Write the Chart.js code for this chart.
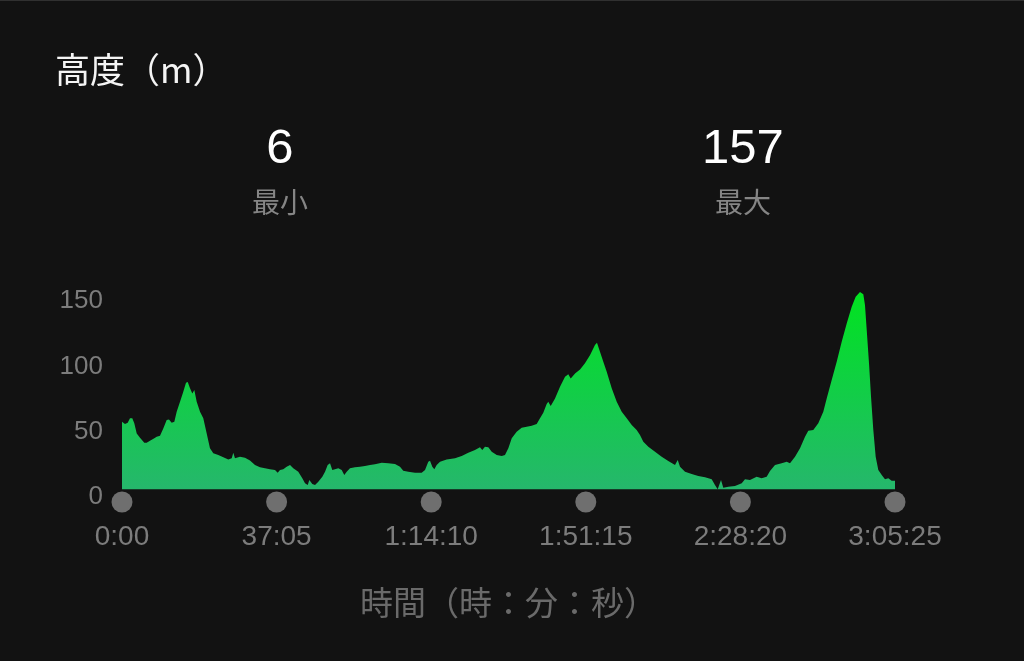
<!DOCTYPE html>
<html><head><meta charset="utf-8">
<script src="https://cdn.jsdelivr.net/npm/chart.js@4.4.0/dist/chart.umd.min.js"></script>
<style>
html,body{margin:0;padding:0;background:#121212;}
#wrap{position:relative;width:1024px;height:661px;overflow:hidden;background:#121212;}
#topline{position:absolute;left:0;top:0;width:1024px;height:1px;background:#303030;}
canvas{position:absolute;left:0;top:0;}
.t{position:absolute;white-space:nowrap;line-height:1;}
#title{left:55px;top:50px;font-family:"Noto Sans CJK JP";font-size:35px;color:#f4f4f4;}
.num{font-family:"Liberation Sans","Noto Sans CJK JP";font-size:49px;color:#ffffff;transform:translateX(-50%);top:122px;}
.lab{font-family:"Noto Sans CJK JP";font-size:28px;color:#858585;transform:translateX(-50%);top:187px;}
</style></head><body>
<div id="wrap">
<canvas id="c" width="1024" height="661"></canvas>
<div id="topline"></div>
<div class="t" id="title"></div>
<div class="t num" id="n0" style="left:280px"></div>
<div class="t num" id="n1" style="left:743px"></div>
<div class="t lab" id="l0" style="left:280px"></div>
<div class="t lab" id="l1" style="left:743px"></div>
</div>
<script>
// ---- data ----
const chartTitle = '高度（m）';
const xAxisTitle = '時間（時：分：秒）';
const statValues = [6, 157];
const statLabels = ['最小', '最大'];
const xTickValues = [0, 2225, 4450, 6675, 8900, 11125];
const xTickLabels = ['0:00', '37:05', '1:14:10', '1:51:15', '2:28:20', '3:05:25'];
const yTickValues = [0, 50, 100, 150];
const timeSec = [0,43,82,115,148,177,212,259,321,355,403,465,499,547,594,643,676,715,753,787,835,882,921,946,979,1012,1041,1075,1123,1170,1219,1266,1314,1386,1458,1530,1579,1602,1626,1698,1770,1842,1914,1986,2058,2130,2202,2241,2274,2321,2370,2418,2465,2537,2595,2634,2673,2696,2739,2778,2825,2883,2922,2960,2994,3027,3065,3113,3162,3199,3234,3281,3353,3425,3497,3569,3641,3738,3833,3929,4001,4048,4120,4217,4313,4361,4408,4433,4466,4495,4529,4577,4673,4793,4889,4984,5080,5152,5185,5224,5272,5321,5393,5465,5512,5560,5609,5680,5752,5824,5896,5968,6016,6063,6112,6135,6170,6232,6304,6376,6423,6458,6520,6592,6663,6735,6807,6836,6879,6927,6976,7048,7120,7192,7264,7336,7407,7455,7503,7575,7671,7767,7862,7959,7998,8031,8103,8199,8294,8391,8487,8534,8573,8621,8654,8726,8822,8919,8966,9038,9134,9206,9278,9326,9398,9494,9566,9614,9686,9758,9830,9877,9949,10021,10093,10142,10214,10286,10358,10430,10502,10559,10621,10669,10693,10718,10751,10780,10813,10847,10885,10934,10981,11029,11077,11125];
const elevation = [57.6,55.9,56.9,60.2,60.2,56.4,48.7,45.4,41.6,41.6,43.1,44.9,46.1,46.9,52.5,58.9,59.4,56.9,57.6,65.3,72.9,80.6,87.5,88.0,83.2,79.3,81.9,72.9,65.3,60.2,48.7,37.3,33.4,32.1,30.4,28.8,29.6,33.9,29.6,30.8,30.1,28.0,24.5,22.7,22.0,21.2,20.7,18.6,20.7,21.2,23.2,24.5,22.0,19.4,14.3,10.5,9.2,13.0,9.9,9.2,11.7,15.5,19.4,24.5,25.8,20.7,21.2,22.0,20.7,16.8,19.4,22.0,22.7,23.2,23.7,24.5,25.0,26.2,25.8,25.2,23.2,20.1,19.4,18.6,18.6,20.7,27.0,27.8,23.2,21.2,24.5,27.0,28.8,29.6,31.4,33.9,36.0,38.0,36.0,38.5,38.0,34.7,32.1,31.4,32.1,37.3,44.9,50.0,53.0,53.8,54.6,55.9,60.2,64.5,71.2,72.9,69.6,75.5,84.4,92.0,93.9,90.8,94.6,97.7,102.3,108.6,116.3,118.1,111.2,103.5,95.9,83.2,72.9,65.3,60.2,55.1,51.3,47.4,42.3,38.5,34.7,30.8,27.5,24.5,28.3,23.2,19.4,17.6,16.1,15.1,13.5,9.2,6.0,13.0,7.0,7.9,8.4,10.5,13.5,13.0,15.5,14.3,15.5,20.0,24.5,25.8,27.0,25.8,30.8,37.3,46.1,50.7,51.3,56.4,65.3,75.5,89.5,103.5,118.8,132.9,145.6,153.3,157.0,155.3,146.9,127.8,102.3,76.7,51.3,30.8,20.7,16.8,13.5,14.3,12.5,12.5];

document.getElementById('title').textContent = chartTitle;
document.getElementById('n0').textContent = statValues[0];
document.getElementById('n1').textContent = statValues[1];
document.getElementById('l0').textContent = statLabels[0];
document.getElementById('l1').textContent = statLabels[1];

function areaGradient(ctx) {
  const chart = ctx.chart;
  const a = chart.chartArea;
  if (!a) return '#1ec35a';
  const g = chart.ctx.createLinearGradient(0, a.top, 0, a.bottom);
  g.addColorStop(0, '#00e41e');
  g.addColorStop(0.45, '#10d043');
  g.addColorStop(1, '#27b56f');
  return g;
}

const dotPlugin = {
  id: 'dots',
  afterDatasetsDraw(chart) {
    const xs = chart.scales.x;
    const c = chart.ctx;
    c.save();
    c.fillStyle = '#6f6f6f';
    xTickValues.forEach(v => {
      c.beginPath();
      c.arc(xs.getPixelForValue(v), chart.chartArea.bottom + 5, 10.5, 0, Math.PI * 2);
      c.fill();
    });
    c.restore();
  }
};

new Chart(document.getElementById('c'), {
  type: 'line',
  data: {
    datasets: [{
      data: timeSec.map((t, i) => ({x: t, y: elevation[i]})),
      fill: {value: 6},
      backgroundColor: areaGradient,
      borderWidth: 0,
      borderColor: 'rgba(0,0,0,0)',
      pointRadius: 0,
      tension: 0
    }]
  },
  options: {
    responsive: false,
    animation: false,
    devicePixelRatio: 1,
    layout: {padding: {top: 288, right: 129, bottom: 0, left: 0}},
    plugins: {legend: {display: false}, tooltip: {enabled: false}},
    scales: {
      x: {
        type: 'linear', min: 0, max: 11125,
        afterBuildTicks: s => { s.ticks = xTickValues.map(v => ({value: v})); },
        afterFit: s => { s.height = 164; },
        ticks: {
          callback: (v, i) => xTickLabels[i],
          color: '#7c7c7c', font: {family: 'Liberation Sans', size: 28},
          padding: 23, maxRotation: 0, autoSkip: false
        },
        grid: {display: false, drawTicks: false},
        border: {display: false},
        title: {
          display: true, text: xAxisTitle, color: '#6a6a6a',
          font: {family: 'Noto Sans CJK JP', size: 33},
          padding: {top: 0, bottom: 39}
        }
      },
      y: {
        min: 0, max: 160,
        afterBuildTicks: s => { s.ticks = yTickValues.map(v => ({value: v})); },
        afterFit: s => { s.width = 122; },
        ticks: {color: '#7c7c7c', font: {family: 'Liberation Sans', size: 26}, padding: 19},
        grid: {display: false, drawTicks: false},
        border: {display: false}
      }
    }
  },
  plugins: [dotPlugin]
});
</script>
</body></html>
